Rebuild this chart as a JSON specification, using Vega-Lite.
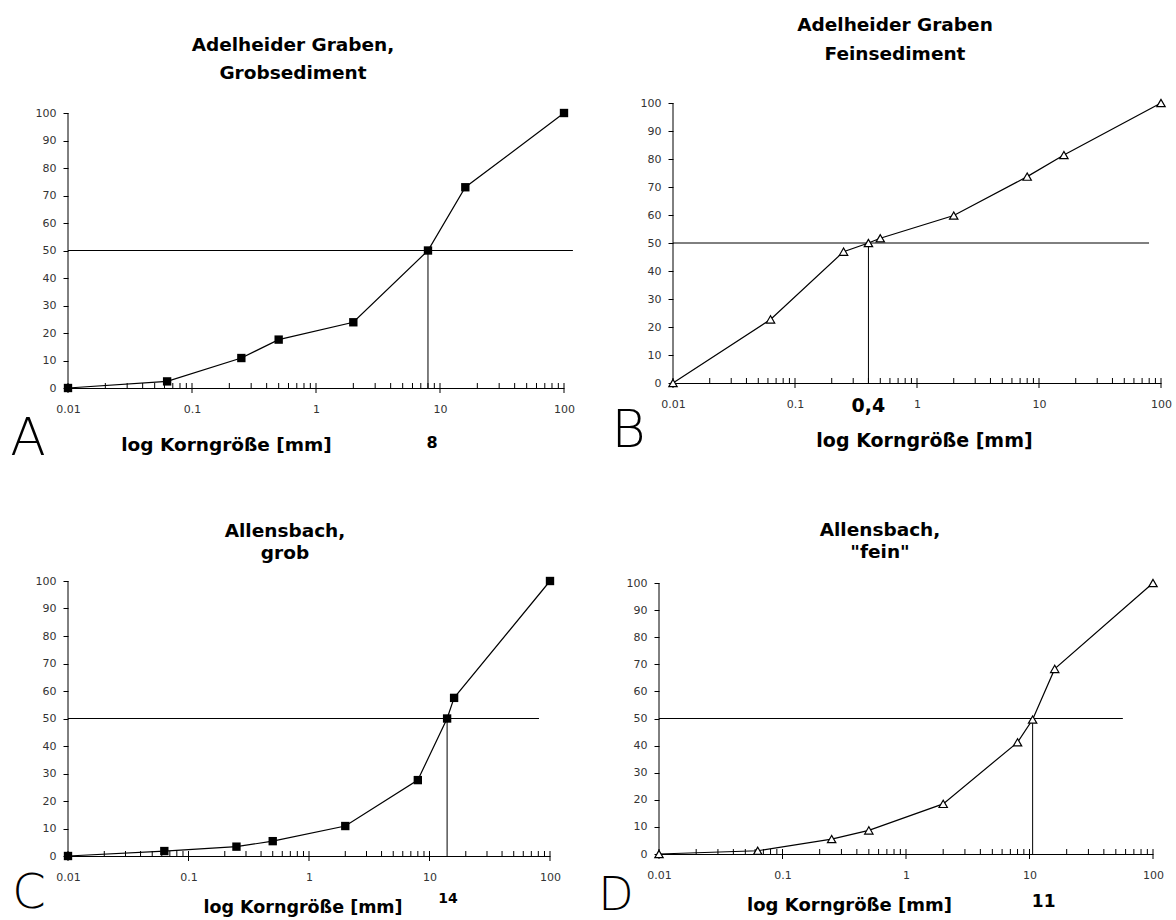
{
  "$schema": "https://vega.github.io/schema/vega-lite/v6.json",
  "background": "white",
  "padding": {"left": 10, "top": 15, "right": 10, "bottom": 2},
  "config": {
    "view": {"stroke": null},
    "font": "DejaVu Sans",
    "axis": {"grid": false, "domainColor": "black", "domainWidth": 1, "tickColor": "black", "tickWidth": 1,
             "labelFont": "DejaVu Sans", "labelFontSize": 11, "labelColor": "#333333",
             "titleFont": "DejaVu Sans", "titleFontSize": 19, "titleFontWeight": "bold", "titleColor": "black",
             "titleAlign": "center", "titleBaseline": "alphabetic"},
    "axisX": {"ticks": false, "labelPadding": 15, "labelFlush": false, "labelOverlap": false},
    "axisY": {"domain": false, "tickSize": 5, "labelPadding": 7},
    "title": {"font": "DejaVu Sans", "fontSize": 18.5, "fontWeight": "bold", "color": "black", "anchor": "middle"}
  },
  "datasets": {
    "A": [{"x":0.01,"y":0},{"x":0.063,"y":2.4},{"x":0.25,"y":10.9},{"x":0.5,"y":17.6},{"x":2,"y":23.9},{"x":8,"y":50},{"x":16,"y":73},{"x":100,"y":100}],
    "B": [{"x":0.01,"y":0},{"x":0.063,"y":22.7},{"x":0.25,"y":46.9},{"x":0.4,"y":50},{"x":0.5,"y":51.7},{"x":2,"y":59.8},{"x":8,"y":73.7},{"x":16,"y":81.4},{"x":100,"y":100}],
    "C": [{"x":0.01,"y":0},{"x":0.063,"y":1.8},{"x":0.25,"y":3.4},{"x":0.5,"y":5.4},{"x":2,"y":10.9},{"x":8,"y":27.6},{"x":14,"y":50},{"x":16,"y":57.5},{"x":100,"y":100}],
    "D": [{"x":0.01,"y":0},{"x":0.063,"y":1.2},{"x":0.25,"y":5.5},{"x":0.5,"y":8.7},{"x":2,"y":18.5},{"x":8,"y":41.2},{"x":10.6,"y":49.6},{"x":16,"y":68.3},{"x":100,"y":100}],
    "refs": [
      {"panel":"A","x":0.01,"x2":0.01,"y":0,"y2":100},{"panel":"A","x":0.01,"x2":118,"y":50,"y2":50},{"panel":"A","x":8,"x2":8,"y":0,"y2":50},
      {"panel":"B","x":0.01,"x2":0.01,"y":0,"y2":100},{"panel":"B","x":0.01,"x2":79.8,"y":50,"y2":50},{"panel":"B","x":0.4,"x2":0.4,"y":0,"y2":50},
      {"panel":"C","x":0.01,"x2":0.01,"y":0,"y2":100},{"panel":"C","x":0.01,"x2":81,"y":50,"y2":50},{"panel":"C","x":14,"x2":14,"y":0,"y2":50},
      {"panel":"D","x":0.01,"x2":0.01,"y":0,"y2":100},{"panel":"D","x":0.01,"x2":57,"y":50,"y2":50},{"panel":"D","x":10.6,"x2":10.6,"y":0,"y2":50}
    ],
    "notes": [
      {"panel":"A","role":"value","x":8,"y":0,"text":"8"},{"panel":"A","role":"letter","x":0.01,"y":0,"text":"A"},
      {"panel":"B","role":"value","x":0.4,"y":0,"text":"0,4"},{"panel":"B","role":"letter","x":0.01,"y":0,"text":"B"},
      {"panel":"C","role":"value","x":14,"y":0,"text":"14"},{"panel":"C","role":"letter","x":0.01,"y":0,"text":"C"},
      {"panel":"D","role":"value","x":10.6,"y":0,"text":"11"},{"panel":"D","role":"letter","x":0.01,"y":0,"text":"D"}
    ],
    "xticks": [
      {"x":0.01,"y":0,"major":true},{"x":0.02,"y":0,"major":false},{"x":0.03,"y":0,"major":false},{"x":0.04,"y":0,"major":false},{"x":0.05,"y":0,"major":false},{"x":0.06,"y":0,"major":false},{"x":0.07,"y":0,"major":false},{"x":0.08,"y":0,"major":false},{"x":0.09,"y":0,"major":false},
      {"x":0.1,"y":0,"major":true},{"x":0.2,"y":0,"major":false},{"x":0.3,"y":0,"major":false},{"x":0.4,"y":0,"major":false},{"x":0.5,"y":0,"major":false},{"x":0.6,"y":0,"major":false},{"x":0.7,"y":0,"major":false},{"x":0.8,"y":0,"major":false},{"x":0.9,"y":0,"major":false},
      {"x":1,"y":0,"major":true},{"x":2,"y":0,"major":false},{"x":3,"y":0,"major":false},{"x":4,"y":0,"major":false},{"x":5,"y":0,"major":false},{"x":6,"y":0,"major":false},{"x":7,"y":0,"major":false},{"x":8,"y":0,"major":false},{"x":9,"y":0,"major":false},
      {"x":10,"y":0,"major":true},{"x":20,"y":0,"major":false},{"x":30,"y":0,"major":false},{"x":40,"y":0,"major":false},{"x":50,"y":0,"major":false},{"x":60,"y":0,"major":false},{"x":70,"y":0,"major":false},{"x":80,"y":0,"major":false},{"x":90,"y":0,"major":false},
      {"x":100,"y":0,"major":true}
    ]
  },
  "bounds": "flush",
  "spacing": 478,
  "vconcat": [
    {
      "bounds": "flush",
      "spacing": 109,
      "hconcat": [
        {
          "width": 496, "height": 285,
          "title": {"text": ["Adelheider Graben,", "Grobsediment"], "dx": -23, "offset": 21, "lineHeight": 28},
          "encoding": {
            "x": {"field": "x", "type": "quantitative", "scale": {"type": "log", "domain": [0.01, 100], "nice": false},
                  "axis": {"values": [0.01, 0.1, 1, 10, 100], "format": "~g", "title": "log Korngröße [mm]", "titleX": 158, "titleY": 62, "titleFontSize": 18.5}},
            "y": {"field": "y", "type": "quantitative", "scale": {"domain": [0, 103.64], "nice": false, "zero": false},
                  "axis": {"values": [0,10,20,30,40,50,60,70,80,90,100], "title": null}}
          },
          "layer": [
            {"data": {"name": "refs"}, "transform": [{"filter": "datum.panel == 'A'"}], "mark": {"type": "rule", "color": "black", "strokeWidth": 1}, "encoding": {"x2": {"field": "x2"}, "y2": {"field": "y2"}}},
            {"data": {"name": "xticks"}, "transform": [{"filter": "datum.major"}], "mark": {"type": "tick", "orient": "vertical", "size": 10, "thickness": 1, "color": "black", "opacity": 1}},
            {"data": {"name": "xticks"}, "transform": [{"filter": "!datum.major"}], "mark": {"type": "tick", "orient": "vertical", "size": 5, "thickness": 1, "color": "black", "opacity": 1, "yOffset": -2.5}},
            {"data": {"name": "A"}, "mark": {"type": "line", "color": "black", "strokeWidth": 1.2}},
            {"data": {"name": "A"}, "mark": {"type": "point", "shape": "square", "filled": true, "color": "black", "size": 70, "opacity": 1}},
            {"data": {"name": "notes"}, "transform": [{"filter": "datum.panel == 'A' && datum.role == 'value'"}], "mark": {"type": "text", "font": "DejaVu Sans", "fontWeight": "bold", "fontSize": 16, "dx": 4, "dy": 60, "baseline": "alphabetic", "align": "center", "color": "black"}, "encoding": {"text": {"field": "text"}}},
            {"data": {"name": "notes"}, "transform": [{"filter": "datum.panel == 'A' && datum.role == 'letter'"}], "mark": {"type": "text", "font": "DejaVu Sans", "fontWeight": 200, "fontSize": 52, "dx": -40, "dy": 67, "baseline": "alphabetic", "align": "center", "color": "black"}, "encoding": {"text": {"field": "text"}}}
          ]
        },
        {
          "width": 488, "height": 280,
          "title": {"text": ["Adelheider Graben", "Feinsediment"], "dx": -22, "offset": 33.5, "lineHeight": 29},
          "encoding": {
            "x": {"field": "x", "type": "quantitative", "scale": {"type": "log", "domain": [0.01, 100], "nice": false},
                  "axis": {"values": [0.01, 0.1, 1, 10, 100], "format": "~g", "title": "log Korngröße [mm]", "titleX": 251, "titleY": 63, "titleFontSize": 19}},
            "y": {"field": "y", "type": "quantitative", "scale": {"domain": [0, 100], "nice": false, "zero": false},
                  "axis": {"values": [0,10,20,30,40,50,60,70,80,90,100], "title": null}}
          },
          "layer": [
            {"data": {"name": "refs"}, "transform": [{"filter": "datum.panel == 'B'"}], "mark": {"type": "rule", "color": "black", "strokeWidth": 1}, "encoding": {"x2": {"field": "x2"}, "y2": {"field": "y2"}}},
            {"data": {"name": "xticks"}, "transform": [{"filter": "datum.major"}], "mark": {"type": "tick", "orient": "vertical", "size": 10, "thickness": 1, "color": "black", "opacity": 1}},
            {"data": {"name": "xticks"}, "transform": [{"filter": "!datum.major"}], "mark": {"type": "tick", "orient": "vertical", "size": 5, "thickness": 1, "color": "black", "opacity": 1, "yOffset": -2.5}},
            {"data": {"name": "B"}, "mark": {"type": "line", "color": "black", "strokeWidth": 1.2}},
            {"data": {"name": "B"}, "mark": {"type": "point", "shape": "triangle-up", "filled": true, "fill": "white", "stroke": "black", "strokeWidth": 1.2, "size": 70, "opacity": 1}},
            {"data": {"name": "notes"}, "transform": [{"filter": "datum.panel == 'B' && datum.role == 'value'"}], "mark": {"type": "text", "font": "DejaVu Sans", "fontWeight": "bold", "fontSize": 19, "dx": 0, "dy": 29, "baseline": "alphabetic", "align": "center", "color": "black"}, "encoding": {"text": {"field": "text"}}},
            {"data": {"name": "notes"}, "transform": [{"filter": "datum.panel == 'B' && datum.role == 'letter'"}], "mark": {"type": "text", "font": "DejaVu Sans", "fontWeight": 200, "fontSize": 52, "dx": -44.5, "dy": 64, "baseline": "alphabetic", "align": "center", "color": "black"}, "encoding": {"text": {"field": "text"}}}
          ]
        }
      ]
    },
    {
      "bounds": "flush",
      "spacing": 109,
      "hconcat": [
        {
          "width": 482, "height": 275,
          "title": {"text": ["Allensbach,", "grob"], "dx": -24, "offset": 13, "lineHeight": 22},
          "encoding": {
            "x": {"field": "x", "type": "quantitative", "scale": {"type": "log", "domain": [0.01, 100], "nice": false},
                  "axis": {"values": [0.01, 0.1, 1, 10, 100], "format": "~g", "title": "log Korngröße [mm]", "titleX": 234.5, "titleY": 56, "titleFontSize": 17.5}},
            "y": {"field": "y", "type": "quantitative", "scale": {"domain": [0, 100], "nice": false, "zero": false},
                  "axis": {"values": [0,10,20,30,40,50,60,70,80,90,100], "title": null}}
          },
          "layer": [
            {"data": {"name": "refs"}, "transform": [{"filter": "datum.panel == 'C'"}], "mark": {"type": "rule", "color": "black", "strokeWidth": 1}, "encoding": {"x2": {"field": "x2"}, "y2": {"field": "y2"}}},
            {"data": {"name": "xticks"}, "transform": [{"filter": "datum.major"}], "mark": {"type": "tick", "orient": "vertical", "size": 10, "thickness": 1, "color": "black", "opacity": 1}},
            {"data": {"name": "xticks"}, "transform": [{"filter": "!datum.major"}], "mark": {"type": "tick", "orient": "vertical", "size": 5, "thickness": 1, "color": "black", "opacity": 1, "yOffset": -2.5}},
            {"data": {"name": "C"}, "mark": {"type": "line", "color": "black", "strokeWidth": 1.2}},
            {"data": {"name": "C"}, "mark": {"type": "point", "shape": "square", "filled": true, "color": "black", "size": 70, "opacity": 1}},
            {"data": {"name": "notes"}, "transform": [{"filter": "datum.panel == 'C' && datum.role == 'value'"}], "mark": {"type": "text", "font": "DejaVu Sans", "fontWeight": "bold", "fontSize": 14, "dx": 1, "dy": 47, "baseline": "alphabetic", "align": "center", "color": "black"}, "encoding": {"text": {"field": "text"}}},
            {"data": {"name": "notes"}, "transform": [{"filter": "datum.panel == 'C' && datum.role == 'letter'"}], "mark": {"type": "text", "font": "DejaVu Sans", "fontWeight": 200, "fontSize": 48, "dx": -39, "dy": 52, "baseline": "alphabetic", "align": "center", "color": "black"}, "encoding": {"text": {"field": "text"}}}
          ]
        },
        {
          "width": 494, "height": 273,
          "title": {"text": ["Allensbach,", "\"fein\""], "dx": -26, "offset": 15, "lineHeight": 22},
          "encoding": {
            "x": {"field": "x", "type": "quantitative", "scale": {"type": "log", "domain": [0.01, 100], "nice": false},
                  "axis": {"values": [0.01, 0.1, 1, 10, 100], "format": "~g", "title": "log Korngröße [mm]", "titleX": 190, "titleY": 56, "titleFontSize": 18}},
            "y": {"field": "y", "type": "quantitative", "scale": {"domain": [0, 100.74], "nice": false, "zero": false},
                  "axis": {"values": [0,10,20,30,40,50,60,70,80,90,100], "title": null}}
          },
          "layer": [
            {"data": {"name": "refs"}, "transform": [{"filter": "datum.panel == 'D'"}], "mark": {"type": "rule", "color": "black", "strokeWidth": 1}, "encoding": {"x2": {"field": "x2"}, "y2": {"field": "y2"}}},
            {"data": {"name": "xticks"}, "transform": [{"filter": "datum.major"}], "mark": {"type": "tick", "orient": "vertical", "size": 10, "thickness": 1, "color": "black", "opacity": 1}},
            {"data": {"name": "xticks"}, "transform": [{"filter": "!datum.major"}], "mark": {"type": "tick", "orient": "vertical", "size": 5, "thickness": 1, "color": "black", "opacity": 1, "yOffset": -2.5}},
            {"data": {"name": "D"}, "mark": {"type": "line", "color": "black", "strokeWidth": 1.2}},
            {"data": {"name": "D"}, "mark": {"type": "point", "shape": "triangle-up", "filled": true, "fill": "white", "stroke": "black", "strokeWidth": 1.2, "size": 70, "opacity": 1}},
            {"data": {"name": "notes"}, "transform": [{"filter": "datum.panel == 'D' && datum.role == 'value'"}], "mark": {"type": "text", "font": "DejaVu Sans", "fontWeight": "bold", "fontSize": 17, "dx": 11, "dy": 53, "baseline": "alphabetic", "align": "center", "color": "black"}, "encoding": {"text": {"field": "text"}}},
            {"data": {"name": "notes"}, "transform": [{"filter": "datum.panel == 'D' && datum.role == 'letter'"}], "mark": {"type": "text", "font": "DejaVu Sans", "fontWeight": 200, "fontSize": 46, "dx": -43, "dy": 56, "baseline": "alphabetic", "align": "center", "color": "black"}, "encoding": {"text": {"field": "text"}}}
          ]
        }
      ]
    }
  ]
}
